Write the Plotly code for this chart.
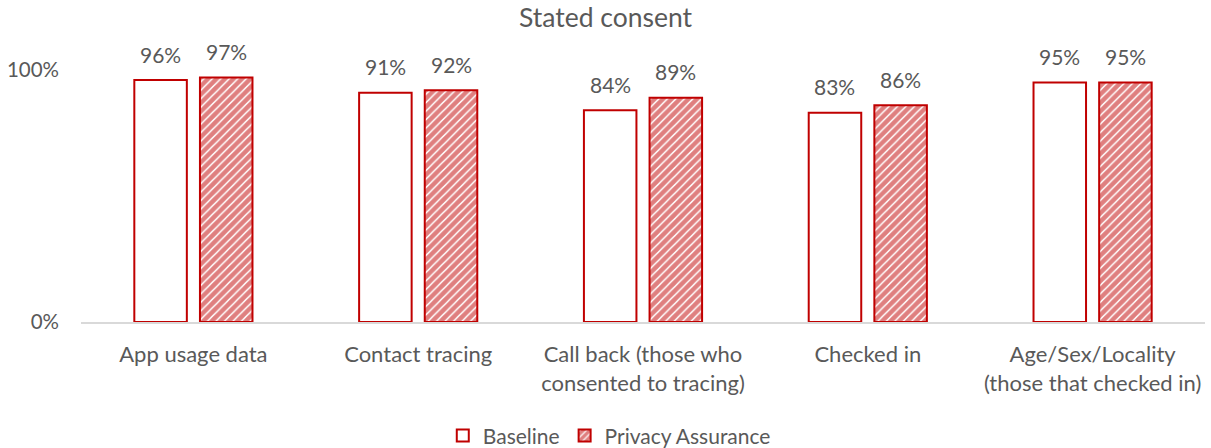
import plotly.graph_objects as go

categories = ["App usage data", "Contact tracing", "Call back (those who<br>consented to tracing)",
              "Checked in", "Age/Sex/Locality<br>(those that checked in)"]
baseline = [0.96, 0.91, 0.84, 0.83, 0.95]
privacy = [0.97, 0.92, 0.89, 0.86, 0.95]
baseline_labels = ["96%", "91%", "84%", "83%", "95%"]
privacy_labels = ["97%", "92%", "89%", "86%", "95%"]

RED = "#C00000"
GREY = "#595959"
FONT = "Lato"
BARGAP = 0.416
GROUPGAP = 0.2

fig = go.Figure()
fig.add_trace(go.Bar(
    name="Baseline", x=categories, y=baseline,
    marker=dict(color="white", line=dict(color=RED, width=2)),
))
fig.add_trace(go.Bar(
    name="Privacy Assurance", x=categories, y=privacy,
    marker=dict(color="white", line=dict(color=RED, width=2),
                pattern=dict(shape="/", fgcolor=RED, bgcolor="white", size=6, solidity=0.75)),
))

slot = (1 - BARGAP) / 2
for i, c in enumerate(categories):
    for off, val, lab in ((-slot / 2, baseline[i], baseline_labels[i]), (slot / 2, privacy[i], privacy_labels[i])):
        fig.add_annotation(x=i + off, y=val, xref="x", yref="y", text=lab, showarrow=False,
                           yanchor="middle", yshift=26, font=dict(family=FONT, size=21, color=GREY))

fig.update_layout(
    width=1211, height=448,
    margin=dict(l=81, r=6, t=70, b=126, autoexpand=False),
    paper_bgcolor="white", plot_bgcolor="white",
    title=dict(text="Stated consent", x=0.5, xanchor="center", xref="container",
               y=0.96, yanchor="middle", font=dict(family=FONT, size=26.5, color=GREY)),
    font=dict(family=FONT, size=21, color=GREY),
    barmode="group", bargap=BARGAP, bargroupgap=GROUPGAP,
    showlegend=True,
    legend=dict(orientation="h", x=0.47, xanchor="center", y=-0.452, yanchor="middle",
                font=dict(family=FONT, size=21, color=GREY), itemwidth=30),
)
fig.update_xaxes(type="category", showgrid=False, showline=True, linecolor="#D9D9D9", linewidth=2,
                 ticks="", tickangle=0, automargin=False, ticklabelstandoff=12,
                 tickfont=dict(family=FONT, size=22, color=GREY))
fig.update_yaxes(range=[0, 1.0], tickvals=[0, 1], ticktext=["0%", "100%"], showgrid=True,
                 gridcolor="#D9D9D9", gridwidth=1.5, zeroline=False, showline=False, automargin=False,
                 ticks="", ticklabelstandoff=21, tickfont=dict(family=FONT, size=20.5, color=GREY))

fig.write_html("out.html", config={"displayModeBar": False},
               post_script="document.body.style.margin='0';")
